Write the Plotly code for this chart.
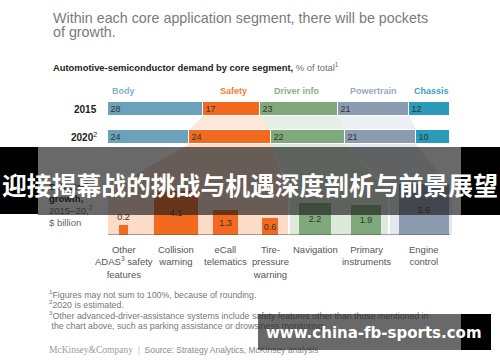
import numpy as np
import plotly.graph_objects as go

W, H = 500, 362

# ---------------- data ----------------
segments = ["Body", "Safety", "Driver info", "Powertrain", "Chassis"]
years = ["2015", "2020"]
year_labels = ["<b>2015</b>", "<b>2020</b><sup>2</sup>"]
share_2015 = [28, 17, 23, 21, 12]
share_2020 = [24, 24, 22, 21, 10]

growth_items = ["Other<br>ADAS<sup>3</sup> safety<br>features", "Collision<br>warning",
                "eCall<br>telematics", "Tire-<br>pressure<br>warning", "Navigation",
                "Primary<br>instruments", "Engine<br>control"]
growth_values = [0.2, 4.1, 1.3, 0.6, 2.2, 1.9, 5.6]
growth_segment = ["Safety", "Safety", "Safety", "Safety",
                  "Driver info", "Driver info", "Powertrain"]

title_lines = ["Within each core application segment, there will be pockets", "of growth."]
subtitle = "<b>Automotive-semiconductor demand by core segment,</b> <span style='color:#6e6e6e'>% of total<sup>1</sup></span>"
left_label = ["<b>Selected</b>", "<b>growth,</b>", "2015–20,<sup>2</sup>", "$ billion"]
footnotes = ["<sup>1</sup>Figures may not sum to 100%, because of rounding.",
             "<sup>2</sup>2020 is estimated.",
             "<sup>3</sup>Other advanced-driver-assistance systems include safety features other than those mentioned in",
             " the chart above, such as parking assistance or drowsiness monitoring."]
banner_text = "迎接揭幕战的挑战与机遇深度剖析与前景展望"
watermark_text = "www.china-fb-sports.com"

# ---------------- styles ----------------
seg_color = {"Body": "#6ba2b9", "Safety": "#f26a1f", "Driver info": "#80a97b",
             "Powertrain": "#8c9cb0", "Chassis": "#2b9bba"}
header_color = {"Body": "#82b2c8", "Safety": "#f47d33", "Driver info": "#8aae86",
                "Powertrain": "#9ca9ba", "Chassis": "#3aa2c0"}
panel_color = {"Safety": "#fddcc7", "Driver info": "#dde9da", "Powertrain": "#e3e8ee"}
link_color = {"Safety": "#fde7d9", "Driver info": "#e7eee5", "Powertrain": "#eceff3"}
FONT = "Liberation Sans, Arial, sans-serif"

# ---------------- layout geometry (px) ----------------
PLOT_L, PLOT_R = 108, 450
TOTAL = 101
TOP_Y0, TOP_Y1 = 95, 151          # top chart domain (px from top)
ROW_STEP = (TOP_Y1 - TOP_Y0) / 2  # px per row unit
BAR_THICK = 0.5
LOW_L, LOW_R = 108, 453
BASE_PX, LOW_TOP_PX = 235, 125
SQUARE_K = 21.5
growth_center_px = [123.5, 176, 225.5, 270, 315, 366, 424]
panel_px = {"Safety": (108, 288), "Driver info": (290, 388), "Powertrain": (390, 452)}
FUNNEL_END_PX = 190
header_x_px = [110, 218, 272, 348, 412]


def pyp(p):
    return 1 - p / H


fig = go.Figure()

# ---- stacked share bars ----
for i, seg in enumerate(segments):
    vals = [share_2015[i], share_2020[i]]
    fig.add_trace(go.Bar(
        orientation="h", y=[0, 1], x=vals, width=BAR_THICK,
        marker=dict(color=seg_color[seg], line=dict(color="white", width=1)),
        text=[str(v) for v in vals], textposition="inside", insidetextanchor="start",
        textangle=0,
        textfont=dict(size=9, color="#333333", family=FONT), constraintext="none",
        xaxis="x", yaxis="y", showlegend=False, hoverinfo="skip"))

# ---- growth squares ----
sides = SQUARE_K * np.sqrt(np.array(growth_values))
xc = np.array(growth_center_px) - LOW_L
fig.add_trace(go.Bar(
    x=xc, y=sides, width=sides,
    marker=dict(color=[seg_color[s] for s in growth_segment], line=dict(width=0)),
    text=[f"{v:.1f}" for v in growth_values],
    textposition=["outside" if s < 14 else "inside" for s in sides],
    insidetextanchor="middle", constraintext="none", cliponaxis=False, textangle=0,
    textfont=dict(size=9, color="#333333", family=FONT),
    xaxis="x2", yaxis="y2", showlegend=False, hoverinfo="skip"))

# ---- page-level texts that sit under the overlays ----
fig.add_trace(go.Scatter(
    x=[49] * 4, y=[188, 200, 212, 224], mode="text", text=left_label,
    textposition="middle right",
    textfont=dict(size=9.5, color=["#222", "#222", "#666", "#666"], family=FONT),
    xaxis="x3", yaxis="y3", showlegend=False, hoverinfo="skip", cliponaxis=False))
fig.add_trace(go.Scatter(
    x=[49] * 4, y=[296, 306, 317, 327], mode="text", text=footnotes,
    textposition="middle right",
    textfont=dict(size=8.8, color="#777777", family=FONT),
    xaxis="x3", yaxis="y3", showlegend=False, hoverinfo="skip", cliponaxis=False))
fig.add_trace(go.Scatter(
    x=[49], y=[351], mode="text",
    text=["<span style='font-family:Liberation Serif;font-size:9.5px;color:#9a9a9a'>McKinsey&amp;Company</span>"
          "<span style='color:#bbbbbb'>  |  </span>Source: Strategy Analytics, McKinsey analysis"],
    textposition="middle right",
    textfont=dict(size=8.5, color="#8a8a8a", family=FONT),
    xaxis="x3", yaxis="y3", showlegend=False, hoverinfo="skip", cliponaxis=False))

# ---- shapes ----
shapes = []
cum15 = np.concatenate([[0], np.cumsum(share_2015)])
cum20 = np.concatenate([[0], np.cumsum(share_2020)])
k = (PLOT_R - PLOT_L) / TOTAL
row2020_bottom_px = TOP_Y0 + (1 + BAR_THICK / 2 + 0.5) * ROW_STEP
y_top2 = BASE_PX - row2020_bottom_px
y_f2 = BASE_PX - FUNNEL_END_PX
for i, seg in enumerate(segments):
    if seg in link_color:
        path = (f"M {cum15[i]},{BAR_THICK/2} L {cum15[i+1]},{BAR_THICK/2} "
                f"L {cum20[i+1]},{1-BAR_THICK/2} L {cum20[i]},{1-BAR_THICK/2} Z")
        shapes.append(dict(type="path", path=path, xref="x", yref="y",
                           fillcolor=link_color[seg], line=dict(width=0), layer="below"))
        pl, pr = panel_px[seg][0] - LOW_L, panel_px[seg][1] - LOW_L
        path2 = (f"M {cum20[i]*k},{y_top2} L {cum20[i+1]*k},{y_top2} L {pr},{y_f2} "
                 f"L {pr},0 L {pl},0 L {pl},{y_f2} Z")
        shapes.append(dict(type="path", path=path2, xref="x2", yref="y2",
                           fillcolor=panel_color[seg], line=dict(width=0), layer="below"))
# baseline
shapes.append(dict(type="line", xref="x2", yref="y2", x0=0, x1=PLOT_R - LOW_L, y0=0, y1=0,
                   line=dict(color="#555555", width=1), layer="above"))
# overlay banner
GREY = "rgba(28,28,28,0.66)"
shapes += [
    dict(type="rect", xref="paper", yref="paper", x0=38 / W, x1=461 / W, y0=pyp(215), y1=pyp(147),
         fillcolor=GREY, line=dict(width=0), layer="above"),
    dict(type="rect", xref="paper", yref="paper", x0=0, x1=38 / W, y0=pyp(214), y1=pyp(147),
         fillcolor="black", line=dict(width=0), layer="above"),
    dict(type="rect", xref="paper", yref="paper", x0=461 / W, x1=1, y0=pyp(215), y1=pyp(147),
         fillcolor="black", line=dict(width=0), layer="above"),
    dict(type="rect", xref="paper", yref="paper", x0=258 / W, x1=461 / W, y0=pyp(350), y1=pyp(314),
         fillcolor=GREY, line=dict(width=0), layer="above"),
    dict(type="rect", xref="paper", yref="paper", x0=461 / W, x1=491 / W, y0=pyp(350), y1=pyp(314),
         fillcolor="black", line=dict(width=0), layer="above"),
]

# ---- annotations ----
ann = []
ann.append(dict(text=title_lines[0], x=51 / W, y=pyp(17.5), xref="paper", yref="paper",
                xanchor="left", yanchor="middle", showarrow=False,
                font=dict(size=14.3, color="#7a7a7a", family=FONT)))
ann.append(dict(text=title_lines[1], x=51 / W, y=pyp(32.5), xref="paper", yref="paper",
                xanchor="left", yanchor="middle", showarrow=False,
                font=dict(size=14.3, color="#7a7a7a", family=FONT)))
ann.append(dict(text=subtitle, x=51 / W, y=pyp(67), xref="paper", yref="paper",
                xanchor="left", yanchor="middle", showarrow=False,
                font=dict(size=9.4, color="#222222", family=FONT)))
for seg, hx in zip(segments, header_x_px):
    ann.append(dict(text=f"<b>{seg}</b>", x=hx / W, y=pyp(91.5), xref="paper", yref="paper",
                    xanchor="left", yanchor="middle", showarrow=False,
                    font=dict(size=9, color=header_color[seg], family=FONT)))
for yi, lab in enumerate(year_labels):
    ann.append(dict(text=lab, x=99 / W, y=yi, xref="paper", yref="y",
                    xanchor="right", yanchor="middle", showarrow=False,
                    font=dict(size=10, color="#222222", family=FONT)))
for c, lab in zip(xc, growth_items):
    ann.append(dict(text=lab, x=c, y=pyp(242), xref="x2", yref="paper",
                    xanchor="center", yanchor="top", showarrow=False,
                    font=dict(size=9.5, color="#555555", family=FONT)))
ann.append(dict(text=f"<b>{banner_text}</b>", x=0.5, y=pyp(184), xref="paper", yref="paper",
                xanchor="center", yanchor="middle", showarrow=False,
                font=dict(size=24.8, color="white", family="Noto Sans CJK SC")))
ann.append(dict(text=f"<b>{watermark_text}</b>", x=374 / W, y=pyp(333), xref="paper", yref="paper",
                xanchor="center", yanchor="middle", showarrow=False,
                font=dict(size=15, color="white", family="DejaVu Sans")))

fig.update_layout(
    width=W, height=H, margin=dict(l=0, r=0, t=0, b=0),
    paper_bgcolor="white", plot_bgcolor="rgba(0,0,0,0)",
    barmode="stack", bargap=0,
    font=dict(family=FONT),
    xaxis=dict(domain=[PLOT_L / W, PLOT_R / W], range=[0, TOTAL], visible=False, fixedrange=True),
    yaxis=dict(domain=[pyp(TOP_Y1), pyp(TOP_Y0)], range=[1.5, -0.5], visible=False, anchor="x"),
    xaxis2=dict(domain=[LOW_L / W, LOW_R / W], range=[0, LOW_R - LOW_L], visible=False, anchor="y2"),
    yaxis2=dict(domain=[pyp(BASE_PX), pyp(LOW_TOP_PX)], range=[0, BASE_PX - LOW_TOP_PX],
                visible=False, anchor="x2"),
    xaxis3=dict(domain=[0, 1], range=[0, W], visible=False, anchor="y3"),
    yaxis3=dict(domain=[0, 1], range=[H, 0], visible=False, anchor="x3"),
    shapes=shapes, annotations=ann,
)

fig.write_html("out.html", config={"displayModeBar": False},
               post_script="document.body.style.margin='0px';document.body.style.padding='0px';")
